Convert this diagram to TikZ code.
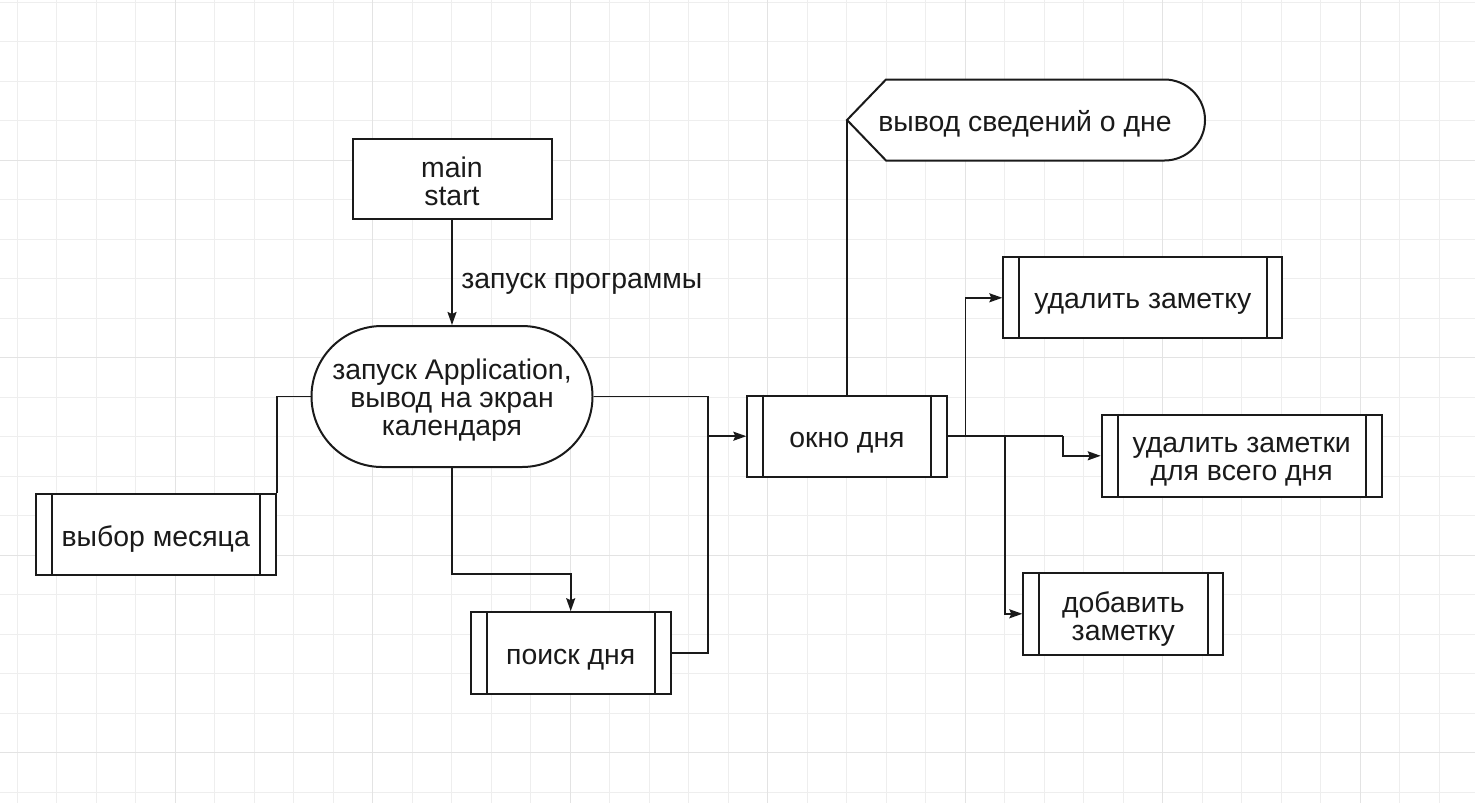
\documentclass[tikz,border=0pt]{standalone}
\usepackage{fontspec}
\setmainfont{Liberation Sans}
\usetikzlibrary{arrows.meta}
\definecolor{ink}{HTML}{1A1A1A}
\definecolor{gridminor}{HTML}{EEEEEE}
\definecolor{gridmajor}{HTML}{E3E3E3}
\tikzset{
  box/.style={rectangle, draw=ink, line width=1pt, fill=white, inner sep=0pt},
  term/.style={box, rounded corners=35.25pt},
  conn/.style={draw=ink, line width=0.9pt},
  arr/.style={conn, -{Stealth[length=6.5pt,width=4.5pt,inset=1pt]}},
  lbl/.style={font=\fontsize{14.2}{14}\selectfont, inner sep=0pt, align=center, text=ink},
}
\begin{document}
\begin{tikzpicture}[x=0.5pt,y=-0.5pt]
\useasboundingbox (0,0) rectangle (1475,803);
\fill[white] (0,0) rectangle (1475,803);
% grid
\foreach \k in {0,...,36} {
  \draw[gridminor, line width=0.5pt] ({17.3+39.5*\k},0) -- ({17.3+39.5*\k},803);
}
\foreach \k in {0,...,20} {
  \draw[gridminor, line width=0.5pt] (0,{2+39.5*\k}) -- (1475,{2+39.5*\k});
}
\foreach \k in {4,9,...,34} {
  \draw[gridmajor, line width=0.5pt] ({17.3+39.5*\k},0) -- ({17.3+39.5*\k},803);
}
\foreach \k in {4,9,14,19} {
  \draw[gridmajor, line width=0.5pt] (0,{2+39.5*\k}) -- (1475,{2+39.5*\k});
}

% boxes
\node[box, minimum width=99.5pt, minimum height=40pt] (main) at (452,179) {};
\node[term, minimum width=140.5pt, minimum height=70.5pt] (term) at (452,396.5) {};
\node[box, minimum width=120pt, minimum height=40.5pt] (month) at (155.7,534.5) {};
\node[box, minimum width=100pt, minimum height=41pt] (poisk) at (570.7,653.2) {};
\node[box, minimum width=99.7pt, minimum height=40.5pt] (okno) at (847,436.2) {};
\node[box, minimum width=139.5pt, minimum height=40.5pt] (udz) at (1142.8,297.8) {};
\node[box, minimum width=140pt, minimum height=41pt] (udzd) at (1241.7,455.8) {};
\node[box, minimum width=100pt, minimum height=41pt] (dob) at (1123.3,613.8) {};

% subprocess inner lines
\foreach \n in {month,poisk,okno,udz,udzd,dob} {
  \draw[ink, line width=1pt] ([xshift=8.4pt]\n.north west) -- ([xshift=8.4pt]\n.south west);
  \draw[ink, line width=1pt] ([xshift=-8.2pt]\n.north east) -- ([xshift=-8.2pt]\n.south east);
}

% texts
\node[lbl] (main-t) at ([yshift=-1pt]main.center) {main\\start};
\node[lbl] (term-t) at ([yshift=-2pt]term.center) {запуск Application,\\вывод на экран\\календаря};
\node[lbl] (month-t) at ([yshift=-2.5pt]month.center) {выбор месяца};
\node[lbl] (poisk-t) at ([yshift=-3pt]poisk.center) {поиск дня};
\node[lbl] (okno-t) at ([yshift=-3pt]okno.center) {окно дня};
\node[lbl] (udz-t) at ([yshift=-3pt]udz.center) {удалить заметку};
\node[lbl] (udzd-t) at ([yshift=-3pt]udzd.center) {удалить заметки\\для всего дня};
\node[lbl] (dob-t) at ([yshift=-2.5pt]dob.center) {добавить\\заметку};

% display shape
\coordinate (disp) at (847,120);
\draw[ink, line width=1pt, fill=white] (disp) -- (886,79.5) -- (1164.5,79.5)
  arc[start angle=90, end angle=-90, radius=20.25pt] -- (886,160.5) -- cycle;
\node[lbl] (dispt) at (1025,124) {вывод сведений о дне};

% coordinates for junctions
\coordinate (j) at (708.3,436.2);
\coordinate (b1) at (965.5,436.2);
\coordinate (b2) at (1005,436.2);
\coordinate (b3) at (1063,436.2);

% connectors
\draw[arr] (main.south) -- (term.north);
\node[lbl, anchor=west] (lab) at (461,284) {запуск программы};
\draw[conn] (term.west) -| (month.north east);
\draw[conn] (term.east) -| (j);
\draw[conn] (poisk.east) -| (j);
\draw[arr] (j) -- (okno.west);
\draw[arr] (term.south) -- (452,574) -| (poisk.north);
\draw[conn] (okno.north) -- (disp);
\draw[conn] (okno.east) -- (b3);
\draw[arr] (b3) |- (udzd.west);
\draw[arr] (b1) |- (udz.west);
\draw[arr] (b2) |- (dob.west);
\end{tikzpicture}
\end{document}
